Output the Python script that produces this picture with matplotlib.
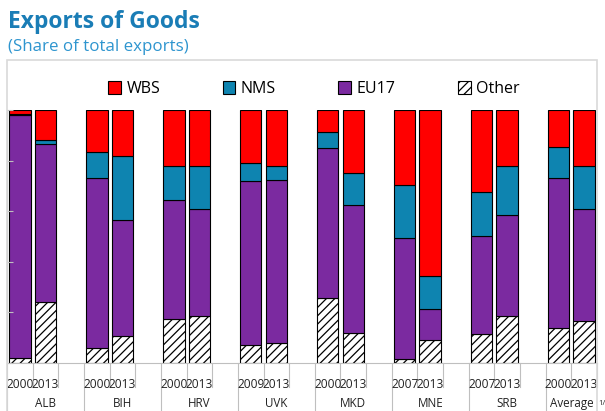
import matplotlib
matplotlib.use('Agg')
import matplotlib.pyplot as plt
from matplotlib.patches import Rectangle

plt.rcParams['font.family'] = ['Open Sans', 'DejaVu Sans']
plt.rcParams['hatch.linewidth'] = 0.9

# 数据：份额 (%)
countries = ['ALB', 'BIH', 'HRV', 'UVK', 'MKD', 'MNE', 'SRB', 'Average']
years = [['2000', '2013'], ['2000', '2013'], ['2000', '2013'], ['2009', '2013'],
         ['2000', '2013'], ['2007', '2013'], ['2007', '2013'], ['2000', '2013']]
other = [2, 24, 6, 10.5, 17.5, 18.5, 7, 8, 25.5, 12, 1.5, 9, 11.5, 18.5, 14, 16.5]
eu17 = [96, 62.5, 67, 46, 47, 42.5, 65, 64.5, 59.5, 50.5, 48, 12.5, 38.5, 40, 59, 44.5]
nms = [0.5, 1.5, 10.5, 25.5, 13.5, 17, 7, 5.5, 6.5, 12.5, 21, 13, 17.5, 19.5, 12.5, 17]
wbs = [1.5, 12, 16.5, 18, 22, 22, 21, 22, 8.5, 25, 29.5, 65.5, 32.5, 22, 14.5, 22]

c_wbs = '#FF0000'
c_nms = '#0E84B0'
c_eu = '#7B2AA0'
grey = '#BFBFBF'

W, H = 605, 411
fig = plt.figure(figsize=(W / 100, H / 100), dpi=100)
ax = fig.add_axes([7 / W, (H - 363) / H, (597 - 7) / W, 253 / H])

# 每组两根柱子，组间空一格
xs = []
for i in range(len(countries)):
    for j in range(2):
        xs.append(3 * i + j + 0.5)

bw = 0.84
kw = dict(width=bw, edgecolor='black', linewidth=0.8)
b1 = ax.bar(xs, other, color='white', hatch='////', **kw)
bottom = list(other)
b2 = ax.bar(xs, eu17, bottom=bottom, color=c_eu, **kw)
bottom = [a + b for a, b in zip(bottom, eu17)]
b3 = ax.bar(xs, nms, bottom=bottom, color=c_nms, **kw)
bottom = [a + b for a, b in zip(bottom, nms)]
b4 = ax.bar(xs, wbs, bottom=bottom, color=c_wbs, **kw)

ax.set_xlim(0, 23)
ax.set_ylim(0, 100)
for s in ['top', 'right']:
    ax.spines[s].set_visible(False)
ax.spines['left'].set_color(grey)
ax.spines['bottom'].set_color(grey)
ax.set_yticks([0, 20, 40, 60, 80, 100])
ax.tick_params(axis='y', direction='in', length=4, color=grey, labelleft=False)
ax.set_xticks([])

# 多级分类轴：年份 + 国家
tr = ax.get_xaxis_transform()
for i, c in enumerate(countries):
    x0 = 3 * i
    ax.plot([x0, x0], [0, -0.2], transform=tr, color=grey, lw=0.8, clip_on=False)
    for j in range(2):
        ax.plot([x0 + j + 1, x0 + j + 1], [0, -0.095], transform=tr, color=grey,
                lw=0.8, clip_on=False)
        ax.text(x0 + j + 0.5, -0.085, years[i][j], transform=tr, ha='center',
                va='center', fontsize=8.6, color='#222222')
    cx = x0 + 1.5 if i < len(countries) - 1 else x0 + 1.0
    ax.text(cx, -0.162, c, transform=tr, ha='center', va='center',
            fontsize=8.4, color='#222222')
ax.text(1.002, -0.16, '1/', transform=ax.transAxes, ha='left', va='center',
        fontsize=5.5, color='#222222')

# 灰色外框
fig.patches.append(Rectangle((7 / W, -0.1), (597 - 7) / W, (H - 60) / H + 0.1,
                             transform=fig.transFigure, fill=False,
                             edgecolor='#D9D9D9', lw=1.2))

fig.text(8 / W, 1 - 22 / H, 'Exports of Goods', fontsize=16.5, fontweight='bold',
         color='#1A7DB6', ha='left', va='center')
fig.text(8 / W, 1 - 47 / H, '(Share of total exports)', fontsize=12.2,
         color='#2E95CF', ha='left', va='center')

fig.legend([b4, b3, b2, b1], ['WBS', 'NMS', 'EU17', 'Other'], ncol=4,
           loc='center', bbox_to_anchor=(314 / W, 1 - 89 / H), frameon=False,
           fontsize=11.5, handlelength=0.8, handleheight=0.8, handletextpad=0.35,
           columnspacing=3.9)

fig.savefig('out.png', dpi=100)
